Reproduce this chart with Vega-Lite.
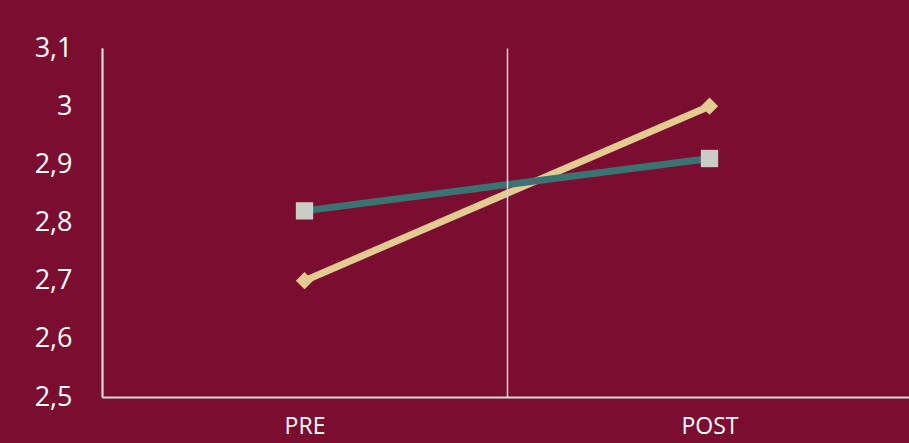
{
  "$schema": "https://vega.github.io/schema/vega-lite/v6.json",
  "width": 810,
  "height": 349,
  "autosize": {"type": "none"},
  "padding": {"left": 102, "top": 48, "right": 0, "bottom": 46},
  "background": "#7B0E30",
  "config": {
    "view": {"stroke": null},
    "font": "Open Sans"
  },
  "data": {
    "values": [
      {"serie": "Serie 1", "momento": "PRE", "valor": 2.70},
      {"serie": "Serie 1", "momento": "POST", "valor": 3.00},
      {"serie": "Serie 2", "momento": "PRE", "valor": 2.82},
      {"serie": "Serie 2", "momento": "POST", "valor": 2.91}
    ]
  },
  "encoding": {
    "x": {
      "field": "momento", "type": "nominal", "sort": ["PRE", "POST"],
      "scale": {"paddingInner": 0, "paddingOuter": 0},
      "axis": {
        "title": null, "labelAngle": 0, "labelColor": "#FFFFFF", "labelFontSize": 23,
        "labelFont": "Open Sans", "labelPadding": 18, "ticks": false,
        "domainColor": "#D9D9D9", "domainWidth": 2,
        "grid": true, "gridColor": "#D9D9D9", "gridWidth": 1.5, "tickBand": "extent",
        "zindex": 1
      }
    },
    "y": {
      "field": "valor", "type": "quantitative",
      "scale": {"domain": [2.5, 3.1], "nice": false, "zero": false},
      "axis": {
        "title": null, "values": [2.5, 2.6, 2.7, 2.8, 2.9, 3.0, 3.1],
        "format": ",.1~f", "labelExpr": "replace(datum.label, '.', ',')",
        "labelColor": "#FFFFFF", "labelFontSize": 27, "labelFont": "Open Sans",
        "labelPadding": 30, "ticks": false, "grid": false,
        "domainColor": "#D9D9D9", "domainWidth": 2
      }
    }
  },
  "layer": [
    {
      "mark": {"type": "line", "strokeWidth": 7},
      "encoding": {
        "color": {
          "field": "serie", "type": "nominal", "legend": null,
          "scale": {"domain": ["Serie 1", "Serie 2"], "range": ["#E3CB92", "#3A7472"]}
        }
      }
    },
    {
      "mark": {"type": "point", "filled": true, "opacity": 1, "size": 300},
      "encoding": {
        "shape": {
          "field": "serie", "type": "nominal", "legend": null,
          "scale": {"domain": ["Serie 1", "Serie 2"], "range": ["diamond", "square"]}
        },
        "color": {
          "field": "serie", "type": "nominal", "legend": null,
          "scale": {"domain": ["Serie 1", "Serie 2"], "range": ["#E3CB92", "#C9CDC6"]}
        }
      }
    }
  ],
  "resolve": {"scale": {"color": "independent"}}
}
